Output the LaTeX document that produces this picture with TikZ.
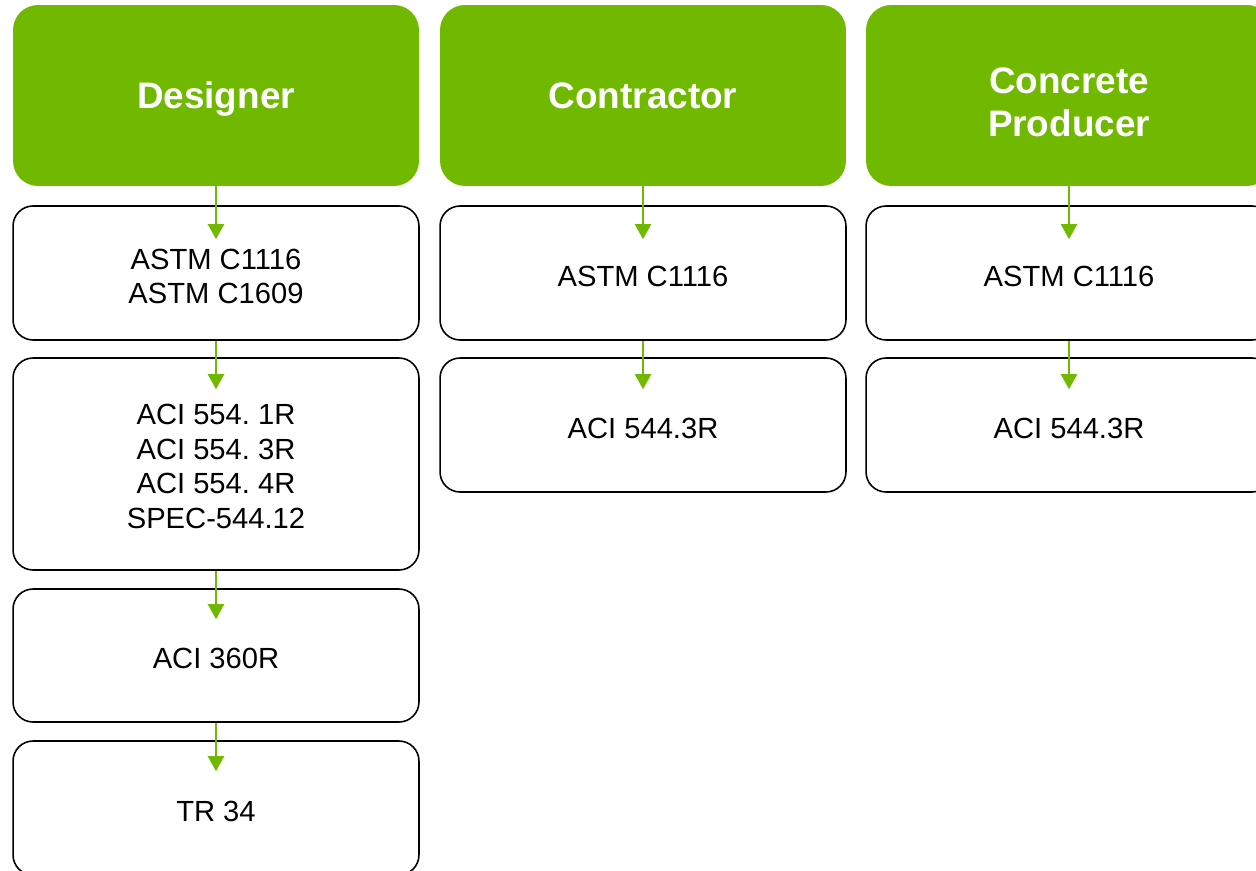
\documentclass[tikz,border=0pt]{standalone}
\usepackage{fontspec}
\setmainfont{Liberation Sans}
\usetikzlibrary{arrows.meta}
\definecolor{leaf}{RGB}{112,185,0}
\frenchspacing
\begin{document}
\begin{tikzpicture}[x=0.02cm,y=-0.02cm,
		head/.style={fill=leaf,rounded corners=0.5cm,minimum width=8.12cm,minimum height=3.62cm,inner sep=0pt,text depth=0pt,text=white,align=center,font=\fontsize{21}{25}\selectfont\bfseries},
		spec/.style={draw=black,line width=0.9pt,fill=white,rounded corners=0.4cm,minimum width=8.12cm,minimum height=2.68cm,inner sep=0pt,text height=15.3pt,text depth=0pt,align=center,font=\fontsize{16.6}{19.6}\selectfont},
		flow/.style={draw=leaf,line width=1.2pt,-{Triangle[width=0.32cm,length=0.3cm]}}]
		\useasboundingbox (0,0) rectangle (1256,871);
		\node[head] (des) at (216,95.5) {Designer};
		\node[head] (con) at (643,95.5) {Contractor};
		\node[head,text height=47.2pt] (pro) at (1069,95.5) {Concrete\\Producer};
		\node[spec,text height=34.9pt] (desA) at (216,273) {ASTM C1116\\ASTM C1609};
		\node[spec,minimum height=4.24cm,text height=73pt] (desB) at (216,464) {ACI 554. 1R\\ACI 554. 3R\\ACI 554. 4R\\SPEC-544.12};
		\node[spec,minimum height=2.66cm] (desC) at (216,655.5) {ACI 360R};
		\node[spec] (desD) at (216,808) {TR 34};
		\node[spec] (conA) at (643,273) {ASTM C1116};
		\node[spec] (conB) at (643,425) {ACI 544.3R};
		\node[spec] (proA) at (1069,273) {ASTM C1116};
		\node[spec] (proB) at (1069,425) {ACI 544.3R};
		\draw[flow] (des.south) -- ([yshift=-0.68cm]desA.north);
		\draw[flow] (desA.south) -- ([yshift=-0.64cm]desB.north);
		\draw[flow] (desB.south) -- ([yshift=-0.62cm]desC.north);
		\draw[flow] (desC.south) -- ([yshift=-0.62cm]desD.north);
		\draw[flow] (con.south) -- ([yshift=-0.68cm]conA.north);
		\draw[flow] (conA.south) -- ([yshift=-0.64cm]conB.north);
		\draw[flow] (pro.south) -- ([yshift=-0.68cm]proA.north);
		\draw[flow] (proA.south) -- ([yshift=-0.64cm]proB.north);
	\end{tikzpicture}
\end{document}
